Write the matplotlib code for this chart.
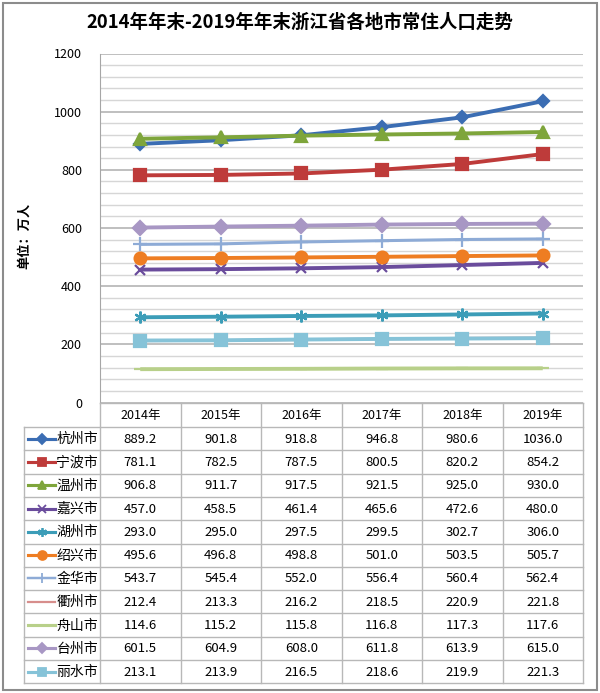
import numpy as np
import matplotlib.pyplot as plt
from matplotlib.patches import Rectangle

plt.rcParams['font.family'] = ['Noto Sans CJK SC', 'DejaVu Sans']

# data
years = ['2014年', '2015年', '2016年', '2017年', '2018年', '2019年']
cities = ['杭州市', '宁波市', '温州市', '嘉兴市', '湖州市', '绍兴市',
          '金华市', '衢州市', '舟山市', '台州市', '丽水市']
hangzhou = [889.2, 901.8, 918.8, 946.8, 980.6, 1036.0]
ningbo = [781.1, 782.5, 787.5, 800.5, 820.2, 854.2]
wenzhou = [906.8, 911.7, 917.5, 921.5, 925.0, 930.0]
jiaxing = [457.0, 458.5, 461.4, 465.6, 472.6, 480.0]
huzhou = [293.0, 295.0, 297.5, 299.5, 302.7, 306.0]
shaoxing = [495.6, 496.8, 498.8, 501.0, 503.5, 505.7]
jinhua = [543.7, 545.4, 552.0, 556.4, 560.4, 562.4]
quzhou = [212.4, 213.3, 216.2, 218.5, 220.9, 221.8]
zhoushan = [114.6, 115.2, 115.8, 116.8, 117.3, 117.6]
taizhou = [601.5, 604.9, 608.0, 611.8, 613.9, 615.0]
lishui = [213.1, 213.9, 216.5, 218.6, 219.9, 221.3]
series = [hangzhou, ningbo, wenzhou, jiaxing, huzhou, shaoxing,
          jinhua, quzhou, zhoushan, taizhou, lishui]

# style per series: color, marker, marker size, line width
styles = [
    ('#3B6DB3', 'D', 6.5, 2.8),
    ('#BE3B3A', 's', 8, 2.8),
    ('#7EA53B', '^', 8.5, 2.8),
    ('#6A4C9C', 'x', 7.5, 2.8),
    ('#3C9DB8', (6, 2, 0), 8.5, 2.8),
    ('#EE7D22', 'o', 8.5, 2.8),
    ('#8EABD6', '+', 10, 2.2),
    ('#D78E8C', None, 0, 2.0),
    ('#B8D08A', '_', 8, 2.8),
    ('#A897C4', 'D', 7, 2.8),
    ('#86C3D8', 's', 8, 2.8),
]

W, H = 600, 693
L, R, T, B = 100, 583, 53.5, 402.5   # plot area in pixels
row_h = 23.3
head_b = 427

fig = plt.figure(figsize=(W / 100, H / 100), dpi=100)
ax = fig.add_axes([L / W, 1 - B / H, (R - L) / W, (B - T) / H])
x = np.arange(len(years))
for vals, (c, m, ms, lw) in zip(series, styles):
    ax.plot(x, vals, color=c, lw=lw, marker=m, ms=ms, mew=1.6,
            mec=c, mfc=c, solid_capstyle='butt')

ax.set_xlim(-0.5, 5.5)
ax.set_ylim(0, 1200)
ax.set_yticks(range(0, 1201, 200))
ax.set_yticks(range(0, 1201, 40), minor=True)
ax.set_xticks([])
ax.grid(True, which='major', axis='y', color='#b4b4b4', lw=1.2, zorder=0)
ax.grid(True, which='minor', axis='y', color='#d6d6d6', lw=1.0, zorder=0)
ax.set_axisbelow(True)
ax.tick_params(axis='y', which='both', length=0, pad=13, labelsize=9)
for s in ['top', 'right', 'bottom']:
    ax.spines[s].set_visible(False)
ax.spines['left'].set_color('#a6a6a6')

# overlay in pixel coordinates for table, title, border
ov = fig.add_axes([0, 0, 1, 1])
ov.set_xlim(0, W)
ov.set_ylim(H, 0)
ov.axis('off')
ov.patch.set_visible(False)

ov.add_patch(Rectangle((3, 3), W - 6, H - 6, fill=False, ec='#8c8c8c', lw=1.5))
ov.text(W / 2, 22, '2014年年末-2019年年末浙江省各地市常住人口走势',
        ha='center', va='center', fontsize=13.3, fontweight='bold')
ov.text(24, 236, '单位：万人', rotation=90, ha='center', va='center',
        fontsize=9.5, fontweight='bold')

gc = '#b8b8b8'
col_w = (R - L) / len(years)
bottom = head_b + row_h * len(cities)
ov.plot([L, R], [B, B], color=gc, lw=1)
for i in range(len(years) + 1):
    ov.plot([L + i * col_w] * 2, [B, bottom], color=gc, lw=1)
ov.plot([24, 24], [head_b, bottom], color=gc, lw=1)
for j in range(len(cities) + 1):
    yy = head_b + j * row_h
    ov.plot([24, R], [yy, yy], color=gc, lw=1)

for i, yr in enumerate(years):
    ov.text(L + (i + 0.5) * col_w, (B + head_b) / 2 + 1, yr,
            ha='center', va='center', fontsize=9)

for j, (name, vals, (c, m, ms, lw)) in enumerate(zip(cities, series, styles)):
    yc = head_b + (j + 0.5) * row_h
    ov.plot([28, 55], [yc, yc], color=c, lw=lw * 0.8, marker=None)
    if m is not None:
        ov.plot([41.5], [yc], color=c, marker=m, ms=ms * 0.75, mew=1.3, mec=c, mfc=c)
    ov.text(77, yc + 0.5, name, ha='center', va='center', fontsize=10)
    for i, v in enumerate(vals):
        ov.text(L + (i + 0.5) * col_w, yc + 0.5, f'{v:.1f}',
                ha='center', va='center', fontsize=9.5)

fig.savefig('out.png', dpi=100, facecolor='white')
